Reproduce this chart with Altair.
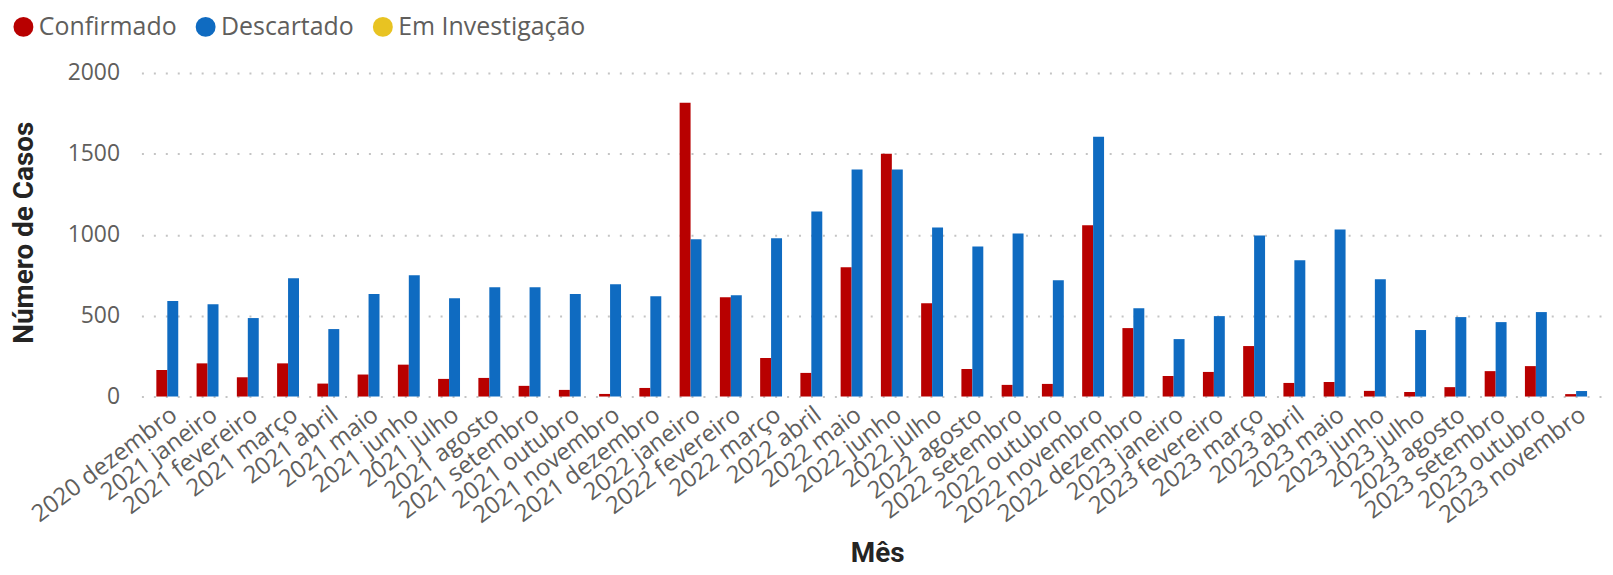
import altair as alt
import pandas as pd

meses = [
    "2020 dezembro", "2021 janeiro", "2021 fevereiro", "2021 março", "2021 abril", "2021 maio",
    "2021 junho", "2021 julho", "2021 agosto", "2021 setembro", "2021 outubro", "2021 novembro",
    "2021 dezembro", "2022 janeiro", "2022 fevereiro", "2022 março", "2022 abril", "2022 maio",
    "2022 junho", "2022 julho", "2022 agosto", "2022 setembro", "2022 outubro", "2022 novembro",
    "2022 dezembro", "2023 janeiro", "2023 fevereiro", "2023 março", "2023 abril", "2023 maio",
    "2023 junho", "2023 julho", "2023 agosto", "2023 setembro", "2023 outubro", "2023 novembro",
]
confirmado = [164, 205, 119, 205, 80, 136, 197, 109, 115, 66, 41, 16,
              53, 1816, 614, 238, 146, 799, 1501, 577, 170, 72, 78, 1058,
              423, 127, 152, 312, 84, 90, 35, 28, 58, 157, 188, 15]
descartado = [590, 571, 485, 731, 417, 633, 750, 608, 676, 676, 633, 694,
              620, 972, 626, 978, 1144, 1403, 1403, 1045, 928, 1008, 719, 1606,
              546, 355, 497, 996, 842, 1033, 725, 411, 491, 460, 522, 34]
series = ["Confirmado", "Descartado", "Em Investigação"]
cores = ["#B80000", "#0F6BC1", "#E8C322"]
y_ticks = [0, 500, 1000, 1500, 2000]

rows = []
for m, c, d in zip(meses, confirmado, descartado):
    rows.append({"Mês": m, "Série": "Confirmado", "Casos": c})
    rows.append({"Mês": m, "Série": "Descartado", "Casos": d})
df = pd.DataFrame(rows)

gray = "#605E5C"
label_font = "Open Sans"
title_font = "Roboto"

chart = alt.Chart(df).mark_bar().encode(
    x=alt.X(
        "Mês:N",
        sort=meses,
        scale=alt.Scale(paddingInner=0.456, paddingOuter=0.371),
        axis=alt.Axis(
            title="Mês",
            labelAngle=-37,
            labelAlign="right",
            labelBaseline="top",
            labelPadding=6,
            labelFont=label_font,
            labelFontSize=24,
            labelColor=gray,
            labelOverlap=False,
            labelLimit=0,
            ticks=False,
            domain=False,
            grid=False,
            titleFont=title_font,
            titleFontSize=28,
            titleFontWeight="bold",
            titleColor="#252423",
            titleX=739,
            titleY=166,
            titleAlign="center",
            titleBaseline="alphabetic",
        ),
    ),
    xOffset=alt.XOffset(
        "Série:N",
        sort=["Confirmado", "Descartado"],
        scale=alt.Scale(paddingInner=0, paddingOuter=0),
    ),
    y=alt.Y(
        "Casos:Q",
        scale=alt.Scale(domain=[0, 2000], nice=False),
        axis=alt.Axis(
            title="Número de Casos",
            values=y_ticks,
            format="d",
            labelFont=label_font,
            labelFontSize=23,
            labelColor=gray,
            labelPadding=22,
            ticks=False,
            domain=False,
            grid=True,
            gridColor="#C4C4C4",
            gridDash=[2, 10],
            gridWidth=2,
            titleFont=title_font,
            titleFontSize=28,
            titleFontWeight="bold",
            titleColor="#252423",
            titleAngle=-90,
            titleX=-117,
            titleY=160,
            titleAlign="center",
            titleBaseline="middle",
        ),
    ),
    color=alt.Color(
        "Série:N",
        scale=alt.Scale(domain=series, range=cores),
        legend=alt.Legend(
            title=None,
            orient="none",
            direction="horizontal",
            legendX=-131,
            legendY=-59,
            symbolType="circle",
            symbolSize=400,
            symbolStrokeWidth=0,
            labelFont=label_font,
            labelFontSize=25,
            labelColor=gray,
            labelOffset=3,
            labelLimit=0,
            columnPadding=16,
        ),
    ),
).properties(
    width=1467,
    height=325,
    padding={"left": 134, "top": 64, "right": 3, "bottom": 174},
    autosize=alt.AutoSizeParams(type="none"),
).configure_view(stroke=None)

chart.save("out.html", embed_options={"renderer": "svg", "actions": False})
